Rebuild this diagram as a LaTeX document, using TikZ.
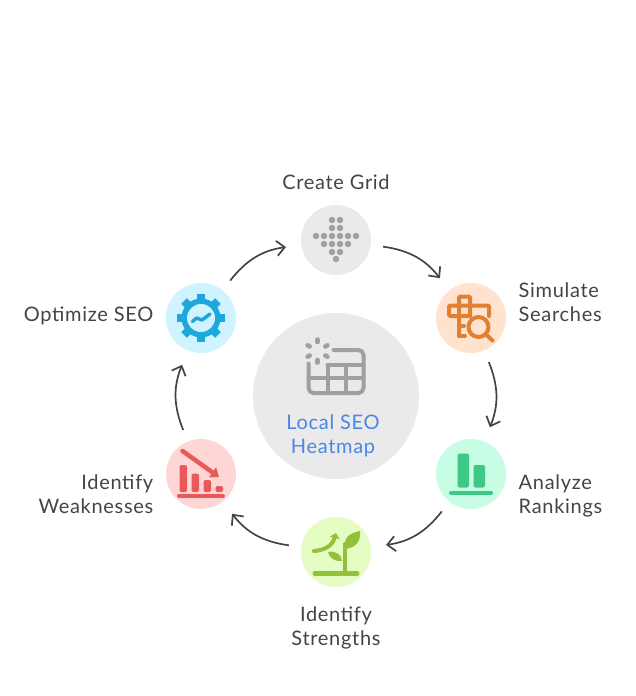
\documentclass[tikz,border=0pt]{standalone}
\usepackage{fontspec}
\setmainfont[LetterSpace=3.5]{Lato}
\usetikzlibrary{positioning,arrows.meta}
\definecolor{inkgray}{HTML}{444444}
\definecolor{iconblue}{HTML}{1EA7DC}
\definecolor{iconorange}{HTML}{E08030}
\definecolor{iconred}{HTML}{E85A5A}
\definecolor{icongreen}{HTML}{94C13C}
\definecolor{iconmint}{HTML}{3EC885}
\definecolor{icongray}{HTML}{A0A0A0}
\definecolor{hubblue}{HTML}{4A86E8}
\definecolor{paleorange}{HTML}{FFE3CE}
\definecolor{palemint}{HTML}{C6FDE4}
\definecolor{palegreen}{HTML}{E5FCC2}
\definecolor{palered}{HTML}{FFD6D6}
\definecolor{paleblue}{HTML}{CFF3FF}
\definecolor{palegray}{HTML}{EAEAEA}
\tikzset{
   stepdot/.style={circle,minimum size=70pt,inner sep=0pt,outer sep=12.5pt},
   steplabel/.style={inner sep=0pt,text=inkgray,font=\fontsize{20}{24}\selectfont},
   flow/.style={draw=inkgray,line width=1.7pt,bend left=22,shorten >=3pt,-{Straight Barb[length=8pt,width=15pt]}},
   icon/.style={line width=4pt,line cap=round,line join=round},
   bar/.style={rounded corners=2pt}
}
\begin{document}
\begin{tikzpicture}[x=1pt,y=-1pt]
   \useasboundingbox (0,0) rectangle (636,696);
   \node[circle,minimum size=166pt,inner sep=0pt,fill=palegray] (hub) at (336,396) {};
   \node[stepdot,fill=palegray] (create) at (336,240) {};
   \node[stepdot,fill=paleorange] (simulate) at (471,318) {};
   \node[stepdot,fill=palemint] (analyze) at (471,474) {};
   \node[stepdot,fill=palegreen] (strengths) at (336,552) {};
   \node[stepdot,fill=palered] (weaknesses) at (201,474) {};
   \node[stepdot,fill=paleblue] (optimize) at (201,318) {};

   \node[steplabel,above=3pt of create] (createlabel) {Create Grid};
   \node[steplabel,align=left,right=0pt of simulate,yshift=16pt] (simulatelabel) {Simulate\\Searches};
   \node[steplabel,align=left,right=0pt of analyze,yshift=-22pt] (analyzelabel) {Analyze\\Rankings};
   \node[steplabel,align=center,below=7pt of strengths] (strengthslabel) {Identify\\Strengths};
   \node[steplabel,align=right,left=0pt of weaknesses,yshift=-20pt] (weaknesseslabel) {Identify\\Weaknesses};
   \node[steplabel,left=0pt of optimize,yshift=2pt] (optimizelabel) {Optimize SEO};
   \node[steplabel,align=center,text=hubblue] (hublabel) at (333,436) {Local SEO\\Heatmap};

   \path
   (create) edge[flow] (simulate)
   (simulate) edge[flow] (analyze)
   (analyze) edge[flow] (strengths)
   (strengths) edge[flow] (weaknesses)
   (weaknesses) edge[flow] (optimize)
   (optimize) edge[flow] (create);

   % hub icon
   \draw[icon,draw=icongray,rounded corners=5pt] (333.5,350) -- (363.5,350) -- (363.5,393) -- (308.5,393) -- (308.5,363.5);
   \draw[icon,draw=icongray] (308.5,378) -- (363.5,378) (327.5,365) -- (327.5,393) (327.5,365) -- (363.5,365) (345.5,365) -- (345.5,393);
   \foreach \a in {30,90,...,330}
      \draw[icon,draw=icongray,line width=4.5pt] (317.5,351) ++(\a:9) -- ++(\a:2.5);

   % grid dots
   \foreach \x/\y in {332/220,340/220,332/228,340/228,316/236,324/236,332/236,340/236,348/236,356/236,324/244,332/244,340/244,348/244,332/252,340/252,336/259}
      \fill[icongray] (\x,\y) circle (3.2pt);

   % search icon
   \draw[icon,draw=iconorange,rounded corners=1pt] (459,336) -- (459,296.5) -- (470,296.5) -- (470,316);
   \draw[icon,draw=iconorange,rounded corners=1pt] (470,305.5) -- (489,305.5) -- (489,316);
   \draw[icon,draw=iconorange,rounded corners=1pt] (470,305.5) -- (449,305.5) -- (449,316) -- (468,316);
   \draw[icon,draw=iconorange] (459,336) -- (465,336) (459,326) -- (464,326);
   \draw[icon,draw=iconorange,fill=paleorange] (478.5,327) circle (10pt);
   \draw[icon,draw=iconorange] (486,334.5) -- (492.5,340.5);

   % bars
   \fill[iconmint,bar] (457.5,453.5) rectangle (469,487.5);
   \fill[iconmint,bar] (473.5,465) rectangle (485,487.5);
   \draw[icon,draw=iconmint] (451,492.5) -- (491,492.5);

   % plant
   \draw[icon,draw=icongreen,line width=5pt] (315,573.5) -- (357,573.5);
   \draw[icon,draw=icongreen] (345,573) -- (345,544);
   \fill[icongreen] (345,549) .. controls (343,538) and (349,533) .. (360,531) .. controls (361,541) and (356,548) .. cycle;
   \fill[icongreen] (342,561) .. controls (342,555) and (335,550) .. (328,552) .. controls (329,558) and (335,562) .. cycle;
   \draw[icon,draw=icongreen,-{Triangle[length=5pt,width=10pt]}] (314,551) .. controls (327,550) and (333,544) .. (336,533);

   % falling chart
   \fill[iconred,bar] (179.5,465) rectangle (187,492);
   \fill[iconred,bar] (191.5,473.5) rectangle (199,492);
   \fill[iconred,bar] (203.5,480) rectangle (211,492);
   \fill[iconred,bar] (215.5,486) rectangle (223,492);
   \draw[icon,draw=iconred] (179,496) -- (223,496);
   \draw[icon,draw=iconred,line width=4.5pt,-{Triangle[length=8pt,width=12pt]}] (182.5,451) -- (219,477);

   % gear
   \foreach \a in {0,45,...,315}
      \draw[draw=iconblue,line width=8pt] (201,318) -- ++(\a:24);
   \fill[iconblue] (201,318) circle (19.5pt);
   \fill[paleblue] (201,318) circle (14pt);
   \draw[icon,draw=iconblue,line width=3.5pt] (192.5,321.5) -- (196.5,318) -- (202,320) -- (210,314);
\end{tikzpicture}
\end{document}
